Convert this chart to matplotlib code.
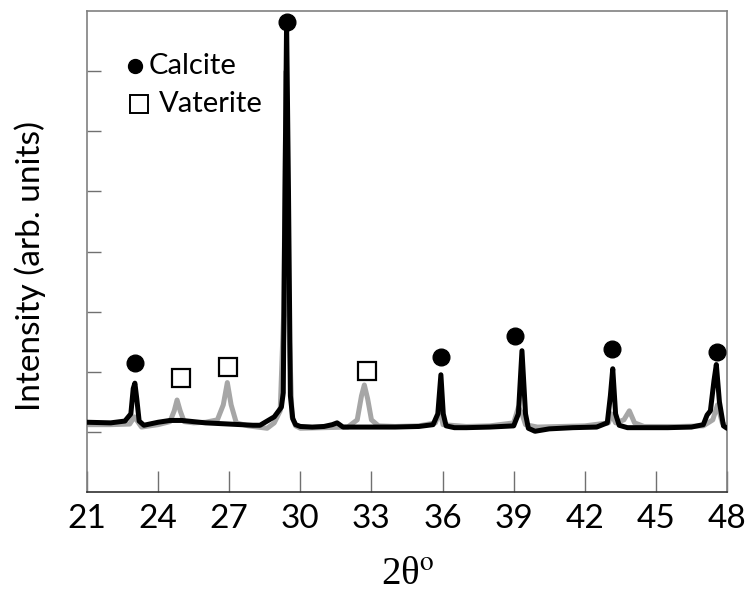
import matplotlib

matplotlib.use("Agg")
import matplotlib.pyplot as plt

plt.rcParams["mathtext.fontset"] = "stix"

# XRD patterns (2theta, intensity in arb. units)
black_x = [21.0, 22.0, 22.6, 22.85, 22.95, 23.02, 23.1, 23.2, 23.4, 24.0, 24.5,
           25.0, 25.5, 26.0, 27.0, 28.0, 28.3, 28.9, 29.2, 29.28, 29.33, 29.42,
           29.5, 29.58, 29.68, 29.8, 30.0, 30.5, 31.0, 31.35, 31.55, 31.8, 33.0,
           34.0, 35.0, 35.6, 35.8, 35.93, 36.03, 36.15, 36.5, 37.0, 38.0, 39.0,
           39.2, 39.35, 39.5, 39.62, 39.9, 40.5, 41.5, 42.5, 42.95, 43.08, 43.18,
           43.3, 43.45, 43.8, 44.5, 45.5, 46.5, 47.0, 47.16, 47.3, 47.45, 47.55,
           47.68, 47.85, 48.0]
black_y = [1.16, 1.15, 1.18, 1.3, 1.72, 1.81, 1.55, 1.18, 1.11, 1.16, 1.19,
           1.19, 1.17, 1.15, 1.13, 1.11, 1.11, 1.25, 1.41, 1.65, 4.0, 7.82,
           5.0, 1.6, 1.22, 1.12, 1.09, 1.08, 1.09, 1.12, 1.15, 1.08, 1.08,
           1.08, 1.09, 1.12, 1.3, 1.95, 1.3, 1.1, 1.07, 1.07, 1.08, 1.1,
           1.3, 2.35, 1.3, 1.06, 1.01, 1.05, 1.07, 1.08, 1.15, 1.6, 2.05,
           1.3, 1.11, 1.07, 1.07, 1.07, 1.08, 1.12, 1.28, 1.35, 1.85, 2.12,
           1.5, 1.1, 1.06]

grey_x = [21.0, 22.0, 22.8, 23.0, 23.3, 24.0, 24.5, 24.68, 24.8, 24.93, 25.1,
          25.5, 26.0, 26.5, 26.75, 26.92, 27.08, 27.3, 27.8, 28.6, 28.9, 29.15,
          29.3, 29.4, 29.5, 29.65, 29.8, 30.0, 31.0, 32.0, 32.4, 32.58, 32.7,
          32.84, 33.0, 33.3, 34.0, 35.0, 35.7, 35.88, 36.02, 37.0, 38.0, 39.0,
          39.2, 39.35, 39.5, 40.0, 41.0, 42.0, 43.0, 43.12, 43.3, 43.65, 43.88,
          44.1, 44.5, 46.0, 47.0, 47.4, 47.6, 47.8, 48.0]
grey_y = [1.12, 1.12, 1.13, 1.25, 1.08, 1.12, 1.17, 1.35, 1.53, 1.35, 1.17,
          1.15, 1.16, 1.2, 1.45, 1.82, 1.45, 1.15, 1.1, 1.06, 1.15, 1.35,
          3.0, 7.0, 3.0, 1.25, 1.1, 1.06, 1.07, 1.08, 1.2, 1.6, 1.78,
          1.55, 1.2, 1.1, 1.09, 1.1, 1.15, 1.35, 1.12, 1.09, 1.1, 1.15,
          1.41, 1.3, 1.12, 1.08, 1.09, 1.1, 1.15, 1.3, 1.15, 1.2, 1.35,
          1.15, 1.09, 1.09, 1.1, 1.2, 1.45, 1.15, 1.08]

calcite_x = [23.03, 29.44, 35.94, 39.06, 43.15, 47.58]
calcite_y = [2.15, 7.82, 2.25, 2.6, 2.38, 2.33]
vaterite_x = [24.97, 26.95, 32.81]
vaterite_y = [1.9, 2.08, 2.01]

xticks = [21, 24, 27, 30, 33, 36, 39, 42, 45, 48]

fig = plt.figure(figsize=(7.52, 5.99), dpi=100)
ax = fig.add_axes([87 / 752, 107 / 599, 640 / 752, 481 / 599])

ax.plot(grey_x, grey_y, color="#a6a6a6", lw=3.6, solid_joinstyle="round",
        solid_capstyle="round", zorder=2)
ax.plot(black_x, black_y, color="black", lw=3.6, solid_joinstyle="round",
        solid_capstyle="round", zorder=3)
ax.plot(calcite_x, calcite_y, "o", color="black", ms=12, ls="none",
        clip_on=False, zorder=4)
ax.plot(vaterite_x, vaterite_y, "s", mfc="white", mec="black", mew=1.6,
        ms=13, ls="none", zorder=4)

ax.set_xlim(21, 48)
ax.set_ylim(0, 8)
ax.set_xticks(xticks)
ax.set_xticklabels([str(t) for t in xticks], fontsize=24, family="Lato")
ax.set_yticks(range(1, 8))
ax.set_yticklabels([])
ax.tick_params(axis="x", direction="in", length=15, width=1, color="#707070", pad=9)
ax.tick_params(axis="y", direction="in", length=10, width=1, color="#707070")
for side in ["left", "right", "top"]:
    ax.spines[side].set_color("#808080")
    ax.spines[side].set_linewidth(1.2)
ax.spines["bottom"].set_color("#303030")
ax.spines["bottom"].set_linewidth(1.2)

# legend drawn as markers plus text, like in the original
ax.plot([(135 - 87) / 640], [(492 - 66) / 481], "o", color="black", ms=10,
        transform=ax.transAxes, clip_on=False)
ax.plot([(139 - 87) / 640], [(492 - 104) / 481], "s", mfc="white", mec="black",
        mew=1.4, ms=13.5, transform=ax.transAxes, clip_on=False)
ax.text((149 - 87) / 640, (492 - 66) / 481, "Calcite", fontsize=21,
        family="Lato", va="center", transform=ax.transAxes)
ax.text((159 - 87) / 640, (492 - 104) / 481, "Vaterite", fontsize=21,
        family="Lato", va="center", transform=ax.transAxes)

fig.text(30 / 752, 1 - 266 / 599, "Intensity (arb. units)", rotation=90,
         fontsize=24, family="Lato", ha="center", va="center")
fig.text(408 / 752, 1 - 574 / 599, r"2θ$^{\mathrm{o}}$", fontsize=28,
         family="Liberation Serif", ha="center", va="center")

fig.savefig("out.png", dpi=100)
